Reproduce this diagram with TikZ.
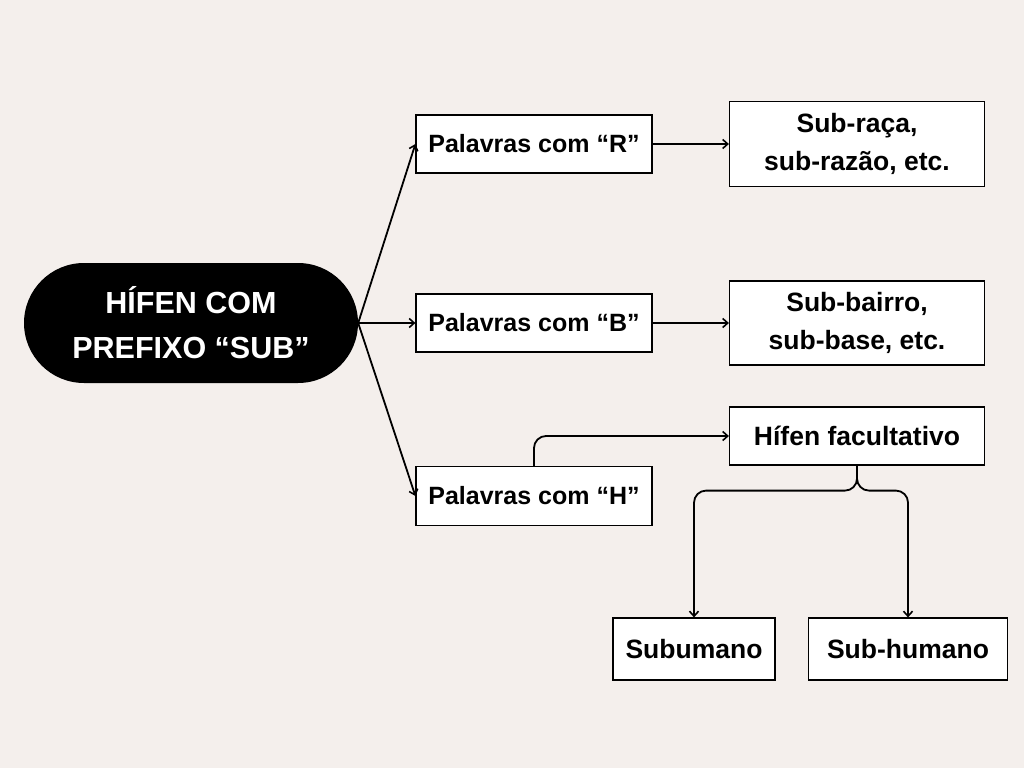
\documentclass[tikz,border=0pt]{standalone}
\usepackage{fontspec}
\setmainfont{Liberation Sans}
\usepackage{tikz}
\usetikzlibrary{arrows.meta}
\definecolor{paper}{RGB}{244, 239, 236}

\begin{document}
\begin{tikzpicture}[x=1pt, y=-1pt,
  link/.style={line width=1.8pt, -{Straight Barb[length=5pt, width=9pt, line width=1.6pt]}},
  box/.style={draw=black, fill=white, line width=1.2pt, inner sep=0pt, align=center,
    font=\fontsize{25}{38}\selectfont\bfseries},
  bigbox/.style={box, font=\fontsize{26.5}{38}\selectfont\bfseries},
  pill/.style={fill=black, text=white, rounded corners=60pt, inner sep=0pt, align=center,
    minimum width=334pt, minimum height=120pt, font=\fontsize{30.5}{45}\selectfont\bfseries}]
  \fill [color=paper] (0, 0) rectangle (1024, 768);
  \useasboundingbox (0, 0) rectangle (1024, 768);

  \node [pill] (main) at (191, 323) {HÍFEN COM\\PREFIXO “SUB”};

  \node [box, minimum width=236pt, minimum height=58pt] (r) at (534, 144) {Palavras com “R”};
  \node [box, minimum width=236pt, minimum height=58pt] (b) at (534, 323) {Palavras com “B”};
  \node [box, minimum width=236pt, minimum height=59pt] (h) at (534, 496) {Palavras com “H”};

  \node [bigbox, minimum width=255pt, minimum height=85pt] (rx) at (857, 144) {Sub-raça,\\sub-razão, etc.};
  \node [bigbox, minimum width=255pt, minimum height=84pt] (bx) at (857, 323) {Sub-bairro,\\sub-base, etc.};
  \node [bigbox, minimum width=255pt, minimum height=58pt] (hf) at (857, 436) {Hífen facultativo};

  \node [bigbox, minimum width=162pt, minimum height=62pt] (sm) at (694, 649) {Subumano};
  \node [bigbox, minimum width=199pt, minimum height=62pt] (sh) at (908, 649) {Sub-humano};

  \draw [link] (main.east) -- (r.west);
  \draw [link] (main.east) -- (b.west);
  \draw [link] (main.east) -- (h.west);

  \draw [link] (r.east) -- (rx.west);
  \draw [link] (b.east) -- (bx.west);
  \draw [link, rounded corners=12pt] (h.north) |- (hf.west);

  \draw [link, rounded corners=12pt] (hf.south) -- ++(0, 25) -| (sm.north);
  \draw [link, rounded corners=12pt] (hf.south) -- ++(0, 25) -| (sh.north);
\end{tikzpicture}
\end{document}
